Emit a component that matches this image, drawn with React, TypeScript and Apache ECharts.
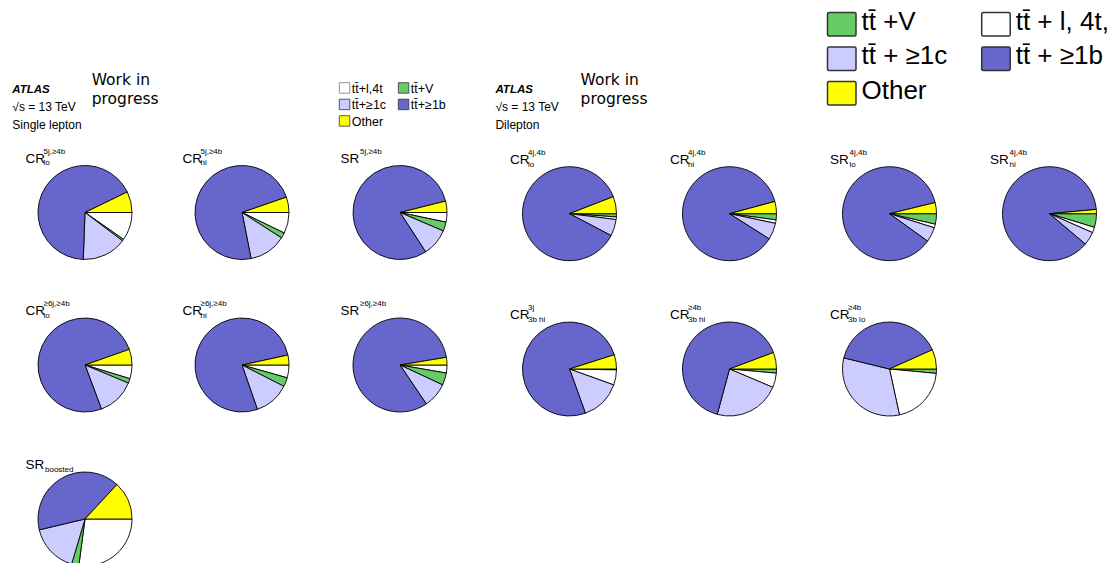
import React, { useEffect, useRef } from "react";
import * as echarts from "echarts";

// Sample composition per analysis region, in percent of the total prediction.
const REGION_MAIN = ["CR", "CR", "SR", "CR", "CR", "SR", "SR", "CR", "CR", "SR", "SR", "CR", "CR", "CR"];
const REGION_SUP = ["5j,≥4b", "5j,≥4b", "5j,≥4b", "≥6j,≥4b", "≥6j,≥4b", "≥6j,≥4b", "", "4j,4b", "4j,4b", "4j,4b", "4j,4b", "3j", "≥4b", "≥4b"];
const REGION_SUB = ["lo", "hi", "", "lo", "hi", "", "boosted", "lo", "hi", "lo", "hi", "3b hi", "3b hi", "3b lo"];
const CHANNEL = ["1l", "1l", "1l", "1l", "1l", "1l", "1l", "2l", "2l", "2l", "2l", "2l", "2l", "2l"];

const TT_V = [0.6, 1.9, 3.1, 1.6, 3.1, 4.2, 2.5, 1.1, 2.1, 3.6, 4.7, 0.3, 1.5, 1.5];
const TT_L4T = [9.7, 7.2, 3.3, 4.7, 4.4, 2.75, 27.1, 0.9, 1.2, 1.25, 1.9, 5.2, 5.25, 20.1];
const TT_1C = [15.3, 12.8, 9.4, 13.0, 12.2, 8.6, 16.7, 5.7, 5.7, 5.1, 4.6, 14.0, 24.2, 32.2];
const TT_1B = [67.2, 72.8, 80.3, 75.3, 76.9, 81.85, 40.6, 86.4, 86.8, 86.25, 87.35, 75.6, 69.0, 39.5];
const OTHER = [7.2, 5.3, 3.9, 5.4, 3.4, 2.6, 13.1, 5.9, 4.2, 3.8, 1.45, 4.9, 6.05, 6.7];

// Legend labels
const SMALL_LEGEND = ["tt̄+l,4t", "tt̄+V", "tt̄+≥1c", "tt̄+≥1b", "Other"];
const BIG_LEGEND = ["tt̄ +V", "tt̄ + l, 4t,", "tt̄ + ≥1c", "tt̄ + ≥1b", "Other"];

// Layout of the pies (pixel centres)
const PIE_CX = [85, 242, 400, 85, 242, 400, 85, 569.5, 729.5, 889.5, 1049.5, 569.5, 729.5, 889.5];
const PIE_CY = [212.5, 212.5, 212.5, 365, 365, 365, 519, 213.7, 213.7, 213.7, 213.7, 369, 369, 369];
const PIE_R = 47;

const COLORS: Record<string, string> = {
  V: "#66cc66",
  L4T: "#ffffff",
  C1: "#ccccff",
  B1: "#6666cc",
  OTHER: "#ffff00",
};

const SANS = "'Liberation Sans', Arial, Helvetica, sans-serif";
const DEJAVU = "'DejaVu Sans', sans-serif";

function txt(text: string, x: number, baseline: number, size: number, opts: any = {}) {
  // place by alphabetic baseline using middle alignment
  const family = opts.family || SANS;
  const shift = family === DEJAVU ? 0.38 : 0.35;
  return {
    type: "text",
    x,
    y: baseline - shift * size,
    silent: true,
    style: {
      text,
      fill: opts.fill || "#000",
      fontSize: size,
      fontFamily: family,
      fontWeight: opts.weight || "normal",
      fontStyle: opts.style || "normal",
      align: opts.align || "left",
      verticalAlign: "middle",
      textAlign: opts.align || "left",
      textVerticalAlign: "middle",
    },
  };
}

export default function App() {
  const ref = useRef<HTMLDivElement>(null);

  useEffect(() => {
    if (!ref.current) return;
    const chart = echarts.init(ref.current, null, { renderer: "svg" });

    const series = PIE_CX.map((cx, i) => {
      const v = { name: "tt̄+V", value: TT_V[i], itemStyle: { color: COLORS.V } };
      const l = { name: "tt̄+l,4t", value: TT_L4T[i], itemStyle: { color: COLORS.L4T } };
      const c = { name: "tt̄+≥1c", value: TT_1C[i], itemStyle: { color: COLORS.C1 } };
      const b = { name: "tt̄+≥1b", value: TT_1B[i], itemStyle: { color: COLORS.B1 } };
      const o = { name: "Other", value: OTHER[i], itemStyle: { color: COLORS.OTHER } };
      const data = CHANNEL[i] === "1l" ? [l, v, c, b, o] : [v, l, c, b, o];
      return {
        type: "pie",
        center: [cx, PIE_CY[i]],
        radius: PIE_R,
        startAngle: 0,
        clockwise: true,
        silent: true,
        label: { show: false },
        labelLine: { show: false },
        emphasis: { disabled: true },
        itemStyle: { borderColor: "#000", borderWidth: 0.9 },
        data,
      };
    });

    const graphics: any[] = [];

    // Region titles with super/subscripts
    PIE_CX.forEach((cx, i) => {
      const x0 = cx - 59.5;
      const base = PIE_CY[i] - 49.3;
      graphics.push(txt(REGION_MAIN[i], x0, base, 13.5));
      const off = REGION_MAIN[i] === "CR" ? 18 : 19.5;
      if (REGION_SUP[i]) graphics.push(txt(REGION_SUP[i], x0 + off, base - 9, 8));
      if (REGION_SUB[i]) graphics.push(txt(REGION_SUB[i], x0 + off, base + 2.5, 8));
    });

    // Channel headers
    const headers: [number, number, string][] = [
      [12.3, 91.7, "Single lepton"],
      [495.4, 580.6, "Dilepton"],
    ];
    headers.forEach(([x, wx, label]) => {
      graphics.push(txt("ATLAS", x, 93, 11.5, { weight: "bold", style: "italic" }));
      graphics.push(txt("√s = 13 TeV", x, 111, 12));
      graphics.push(txt(label, x, 129, 12));
      graphics.push(txt("Work in", wx, 85.7, 15.5, { family: DEJAVU }));
      graphics.push(txt("progress", wx, 105, 15.5, { family: DEJAVU }));
    });

    // Small legend in the middle
    const smallColors = [COLORS.L4T, COLORS.V, COLORS.C1, COLORS.B1, COLORS.OTHER];
    const smallPos: [number, number][] = [
      [339.3, 82.7],
      [398.3, 82.7],
      [339.3, 99.2],
      [398.3, 99.2],
      [339.3, 115.7],
    ];
    SMALL_LEGEND.forEach((label, i) => {
      const [bx, by] = smallPos[i];
      graphics.push({
        type: "rect",
        silent: true,
        shape: { x: bx, y: by, width: 10.5, height: 10.5 },
        style: { fill: smallColors[i], stroke: i === 0 ? "#777" : "#333", lineWidth: 0.8 },
      });
      graphics.push(txt(label, bx + 12.5, by + 10.2, 12.5));
    });

    // Large legend at the top right
    const bigColors = [COLORS.V, COLORS.L4T, COLORS.C1, COLORS.B1, COLORS.OTHER];
    const bigPos: [number, number][] = [
      [827.5, 12.5],
      [981.7, 12.5],
      [827.5, 47],
      [981.7, 47],
      [827.5, 81.5],
    ];
    BIG_LEGEND.forEach((label, i) => {
      const [bx, by] = bigPos[i];
      graphics.push({
        type: "rect",
        silent: true,
        shape: { x: bx, y: by, width: 28.5, height: 23.5, r: 1.5 },
        style: { fill: bigColors[i], stroke: "#333", lineWidth: 1.5 },
      });
      graphics.push(txt(label, bx + 34, by + 17.5, 26));
    });

    chart.setOption({
      animation: false,
      backgroundColor: "#ffffff",
      series,
      graphic: { elements: graphics },
    });

    return () => chart.dispose();
  }, []);

  return (
    <div
      ref={ref}
      style={{ position: "absolute", left: 0, top: 0, width: 1113, height: 563 }}
    />
  );
}
